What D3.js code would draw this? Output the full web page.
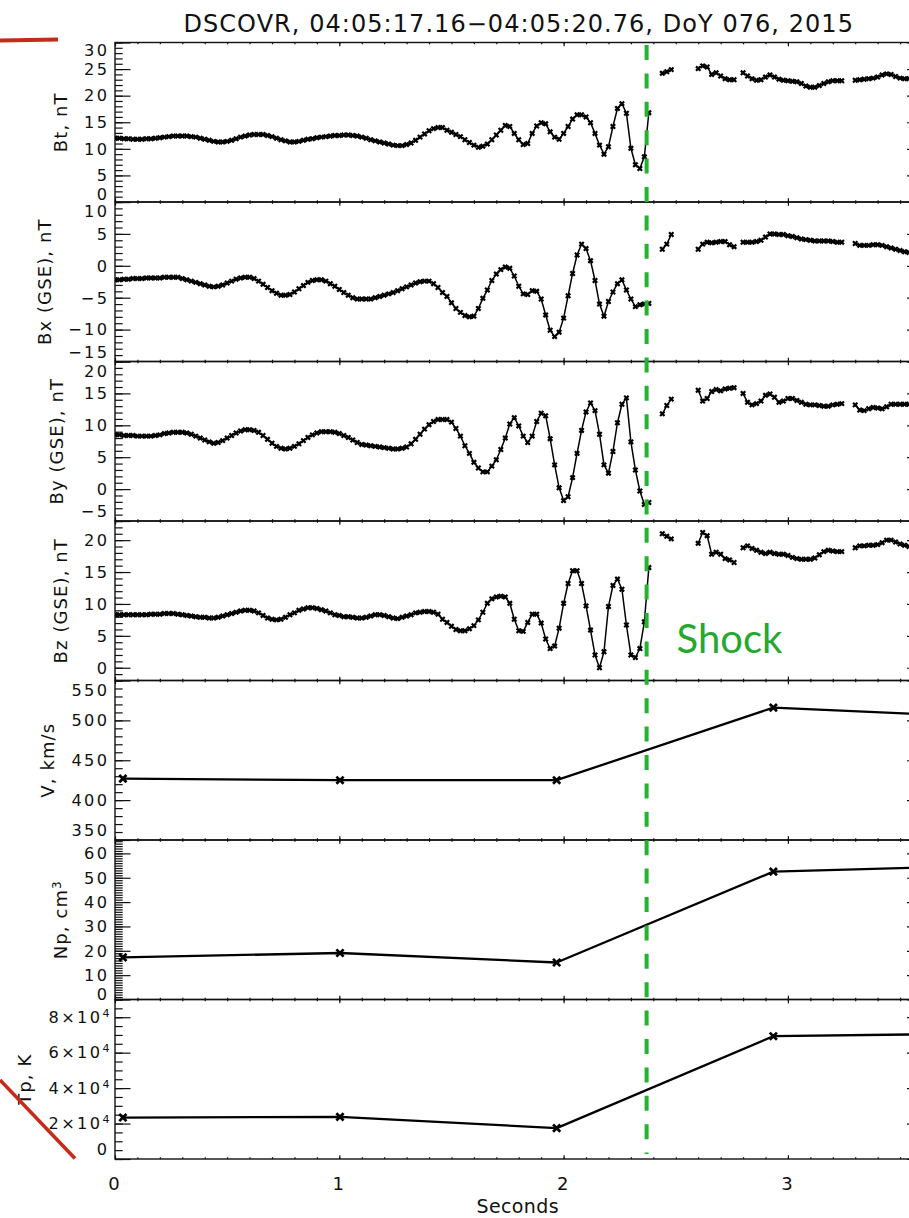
<!DOCTYPE html>
<html><head><meta charset="utf-8">
<script src="https://cdn.jsdelivr.net/npm/d3@7"></script>
<style>body{margin:0;background:#fff}svg{display:block}</style>
</head><body><div id="chart"></div>
<script>
// ---------------- DATA ----------------
const titleText = "DSCOVR, 04:05:17.16\u221204:05:20.76, DoY 076, 2015";
const xLabel = "Seconds";
const xMajorTicks = [0, 1, 2, 3];
const shockTime = [2.37];
const shockLabel = "Shock";

// magnetometer sample times (s)
const magTime = [
0.00,0.02,0.04,0.06,0.08,0.10,0.12,0.14,0.16,0.18,
0.20,0.22,0.24,0.26,0.28,0.30,0.32,0.34,0.36,0.38,
0.40,0.42,0.44,0.46,0.48,0.50,0.52,0.54,0.56,0.58,
0.60,0.62,0.64,0.66,0.68,0.70,0.72,0.74,0.76,0.78,
0.80,0.82,0.84,0.86,0.88,0.90,0.92,0.94,0.96,0.98,
1.00,1.02,1.04,1.06,1.08,1.10,1.12,1.14,1.16,1.18,
1.20,1.22,1.24,1.26,1.28,1.30,1.32,1.34,1.36,1.38,
1.40,1.42,1.44,1.46,1.48,1.50,1.52,1.54,1.56,1.58,
1.60,1.62,1.64,1.66,1.68,1.70,1.72,1.74,1.76,1.78,
1.80,1.82,1.84,1.86,1.88,1.90,1.92,1.94,1.96,1.98,
2.00,2.02,2.04,2.06,2.08,2.10,2.12,2.14,2.16,2.18,
2.20,2.22,2.24,2.26,2.28,2.30,2.32,2.34,2.36,2.38,
2.40,2.42,2.44,2.46,2.48,2.50,2.52,2.54,2.56,2.58,
2.60,2.62,2.64,2.66,2.68,2.70,2.72,2.74,2.76,2.78,
2.80,2.82,2.84,2.86,2.88,2.90,2.92,2.94,2.96,2.98,
3.00,3.02,3.04,3.06,3.08,3.10,3.12,3.14,3.16,3.18,
3.20,3.22,3.24,3.26,3.28,3.30,3.32,3.34,3.36,3.38,
3.40,3.42,3.44,3.46,3.48,3.50,3.52,3.54,3.56];

const bt = [
12.0,12.0,11.9,11.9,11.8,11.8,11.8,11.9,11.9,12.0,
12.1,12.2,12.3,12.4,12.4,12.4,12.4,12.3,12.2,12.0,
11.8,11.6,11.4,11.3,11.3,11.4,11.6,11.9,12.2,12.4,
12.6,12.7,12.7,12.7,12.5,12.3,12.0,11.7,11.5,11.3,
11.3,11.4,11.6,11.8,11.9,12.1,12.2,12.3,12.4,12.5,
12.5,12.6,12.6,12.5,12.4,12.2,12.0,11.7,11.5,11.3,
11.1,10.9,10.7,10.6,10.6,10.8,11.1,11.6,12.2,12.8,
13.4,13.8,14.0,14.0,13.5,13.1,12.7,12.3,11.7,11.2,
10.7,10.3,10.5,10.9,11.7,12.6,13.5,14.4,14.2,12.9,
11.7,10.8,11.0,12.9,14.3,14.9,14.7,13.2,12.2,11.8,
12.9,14.2,15.6,16.4,16.4,16.0,14.9,12.9,10.7,9.0,
10.4,14.2,17.6,18.5,16.7,10.1,7.0,6.3,8.5,16.8,
null,null,24.2,24.5,24.9,null,null,null,null,null,
25.1,25.6,25.4,24.0,24.3,23.7,23.2,23.0,23.0,null,
24.3,23.7,23.2,22.9,23.0,23.5,23.9,23.5,23.1,22.9,
22.8,22.7,22.6,22.3,21.8,21.6,21.6,21.9,22.3,22.6,
22.8,22.8,22.8,null,null,22.9,23.0,23.1,23.2,23.3,
23.5,23.9,24.1,24.0,23.6,23.3,23.2,23.2,23.1];

const bx = [
-2.2,-2.2,-2.1,-2.1,-2.0,-2.0,-2.0,-1.9,-1.9,-1.9,
-1.9,-1.8,-1.8,-1.8,-1.8,-2.0,-2.2,-2.4,-2.6,-2.8,
-3.0,-3.2,-3.3,-3.2,-3.0,-2.7,-2.4,-2.1,-1.9,-1.8,
-1.8,-2.0,-2.4,-2.9,-3.4,-3.9,-4.3,-4.6,-4.6,-4.5,
-4.1,-3.6,-3.1,-2.6,-2.3,-2.2,-2.2,-2.4,-2.8,-3.2,
-3.7,-4.2,-4.6,-5.0,-5.2,-5.2,-5.2,-5.2,-5.0,-4.8,
-4.6,-4.4,-4.2,-3.9,-3.6,-3.3,-3.0,-2.7,-2.5,-2.4,
-2.4,-2.8,-3.4,-4.2,-4.8,-5.8,-6.7,-7.3,-7.8,-8.0,
-7.9,-6.7,-5.1,-3.8,-2.3,-1.3,-0.6,-0.2,-0.4,-1.6,
-3.2,-4.4,-4.5,-3.9,-4.0,-5.2,-7.7,-10.1,-11.1,-10.4,
-8.2,-4.7,-1.2,1.7,3.4,2.7,0.8,-2.3,-6.0,-7.9,
-5.6,-4.1,-2.8,-2.2,-3.8,-5.2,-6.4,-6.1,-6.0,-5.9,
null,null,2.6,3.4,4.9,null,null,null,null,null,
2.6,3.4,3.7,3.6,3.7,3.8,3.8,3.3,3.0,null,
3.7,3.7,3.7,3.8,4.0,4.5,5.0,5.0,4.9,4.9,
4.7,4.6,4.4,4.2,4.1,4.0,3.9,3.9,3.9,3.9,
3.8,3.7,3.7,null,null,3.5,3.2,3.2,3.2,3.3,
3.3,3.2,3.0,2.8,2.6,2.4,2.2,2.1,2.0];

const by = [
8.5,8.5,8.4,8.4,8.4,8.3,8.3,8.3,8.3,8.4,
8.5,8.7,8.8,8.9,8.9,8.9,8.8,8.6,8.3,8.0,
7.7,7.4,7.2,7.3,7.6,8.0,8.4,8.8,9.1,9.3,
9.3,9.2,8.9,8.4,7.8,7.2,6.7,6.4,6.3,6.4,
6.7,7.1,7.6,8.1,8.5,8.8,9.0,9.0,9.0,8.9,
8.7,8.4,8.1,7.7,7.3,7.0,6.9,6.8,6.7,6.6,
6.5,6.4,6.3,6.3,6.4,6.6,7.1,7.8,8.6,9.4,
10.1,10.6,10.9,10.9,10.9,10.5,9.5,8.3,6.8,5.6,
4.2,3.3,2.7,2.7,3.6,4.6,6.2,8.0,10.2,11.2,
9.9,8.3,7.3,8.3,10.6,11.9,11.5,7.9,3.8,0.2,
-1.8,-1.2,1.8,5.6,9.2,12.1,13.5,12.3,8.6,3.8,
2.5,5.9,10.4,13.3,14.3,7.4,3.0,-0.3,-2.4,-2.1,
null,null,11.8,13.1,14.1,null,null,null,null,null,
15.5,13.8,14.2,15.3,15.6,15.4,15.7,15.8,15.9,null,
15.0,13.6,13.2,13.4,13.8,14.7,14.9,14.4,13.6,13.8,
14.2,14.2,13.9,13.6,13.3,13.2,13.2,13.1,13.0,13.0,
13.2,13.3,13.4,null,null,13.2,12.4,12.3,12.6,12.8,
12.7,12.6,12.9,13.3,13.3,13.3,13.3,13.3,13.3];

const bz = [
8.3,8.3,8.3,8.3,8.3,8.3,8.3,8.3,8.4,8.4,
8.4,8.5,8.5,8.5,8.4,8.3,8.2,8.1,8.0,7.9,
7.9,7.8,7.8,7.9,8.1,8.3,8.5,8.7,8.9,9.0,
9.0,8.9,8.6,8.2,7.8,7.6,7.5,7.6,7.9,8.3,
8.6,9.0,9.2,9.4,9.4,9.3,9.1,8.9,8.6,8.3,
8.2,8.0,8.0,7.9,7.8,7.8,7.9,8.1,8.3,8.3,
8.2,8.0,7.8,7.7,7.9,8.1,8.3,8.6,8.7,8.8,
8.8,8.7,8.4,7.6,7.1,6.5,6.0,5.8,5.8,6.1,
6.6,7.5,8.7,10.1,10.8,11.1,11.2,11.1,10.1,7.6,
5.8,5.7,7.1,8.4,8.4,7.0,4.5,3.0,3.4,6.2,
10.1,13.2,15.2,15.2,13.2,9.7,5.9,2.0,0.0,2.5,
9.6,12.9,13.9,12.3,6.7,2.0,1.6,3.0,7.2,15.7,
null,null,21.0,20.6,20.2,null,null,null,null,null,
19.5,21.2,20.7,17.8,18.1,17.8,17.1,16.9,16.5,null,
18.8,19.1,18.7,18.4,18.1,17.9,18.1,17.9,17.8,17.8,
17.6,17.3,17.1,17.0,17.0,17.0,17.2,17.7,18.2,18.4,
18.3,18.2,18.2,null,null,18.8,19.1,19.1,19.2,19.2,
19.3,19.6,20.0,20.0,19.7,19.4,19.2,19.0,19.0];

// plasma (Faraday cup) sample times (s) and values
const plasmaTime = [0.035, 1.003, 1.969, 2.935, 3.90];
const vp = [427, 425, 425, 516, 504];
const np = [17.3, 19.1, 15.2, 52.5, 55.0];
const tp = [23400, 23800, 17400, 69300, 70800];

// y-axis tick values & labels
const btTicks = [0, 5, 10, 15, 20, 25, 30];
const bxTicks = [-15, -10, -5, 0, 5, 10];
const byTicks = [-5, 0, 5, 10, 15, 20];
const bzTicks = [0, 5, 10, 15, 20];
const vTicks = [350, 400, 450, 500, 550];
const npTicks = [0, 10, 20, 30, 40, 50, 60];
const tpTicks = [0, 20000, 40000, 60000, 80000];
const tpTickLabels = [["0", ""], ["2\u00d710", "4"], ["4\u00d710", "4"], ["6\u00d710", "4"], ["8\u00d710", "4"]];

// ---------------- LAYOUT ----------------
const L = 115, R = 922.5, TOP = 42.5, PH = 159.5;
const INK = "#111";
const FONT = "'DejaVu Sans', sans-serif";
const svg = d3.select("#chart").append("svg").attr("width", 909).attr("height", 1218);
const x = d3.scaleLinear().domain([0, 3.6]).range([L, R]);

const panels = [
  {title: ["Bt, nT"], domain: [0, 30], ticks: btTicks, minor: 1, vals: bt, t: magTime, kind: "mag"},
  {title: ["Bx (GSE), nT"], domain: [-15, 10], ticks: bxTicks, minor: 1, vals: bx, t: magTime, kind: "mag"},
  {title: ["By (GSE), nT"], domain: [-5, 20], ticks: byTicks, minor: 1, vals: by, t: magTime, kind: "mag"},
  {title: ["Bz (GSE), nT"], domain: [-2, 23], ticks: bzTicks, minor: 1, vals: bz, t: magTime, kind: "mag"},
  {title: ["V, km/s"], domain: [350, 550], ticks: vTicks, minor: 10, vals: vp, t: plasmaTime, kind: "pl"},
  {title: ["Np, cm", "3"], domain: [0, 65.5], ticks: npTicks, minor: 1, vals: np, t: plasmaTime, kind: "pl"},
  {title: ["Tp, K"], domain: [0, 90000], ticks: tpTicks, minor: 5000, vals: tp, t: plasmaTime, kind: "pl", labels: tpTickLabels}
];

svg.append("defs").append("clipPath").attr("id", "plotclip")
  .append("rect").attr("x", L).attr("y", TOP).attr("width", R - L).attr("height", PH * 7);

function xMarker(sel, s) {
  return sel.attr("d", `M${-s},${-s}L${s},${s}M${-s},${s}L${s},${-s}`);
}

const GAP = 19; // minimum spacing between neighbouring tick labels

panels.forEach((p, i) => {
  const y0 = TOP + i * PH, y1 = y0 + PH;
  const y = d3.scaleLinear().domain(p.domain).range([y1, y0]);
  const g = svg.append("g");

  const xMinor = d3.range(0, 3.6001, 0.1);
  const styleAxis = a => { a.select(".domain").remove(); a.selectAll("line").attr("stroke", INK).attr("stroke-width", 1.2); a.selectAll("text").remove(); };
  g.append("g").attr("transform", `translate(0,${y1})`).call(d3.axisTop(x).tickValues(xMinor).tickSize(1.8)).call(styleAxis);
  g.append("g").attr("transform", `translate(0,${y1})`).call(d3.axisTop(x).tickValues(xMajorTicks).tickSize(3.8)).call(styleAxis);
  g.append("g").attr("transform", `translate(0,${y0})`).call(d3.axisBottom(x).tickValues(xMinor).tickSize(1.8)).call(styleAxis);
  g.append("g").attr("transform", `translate(0,${y0})`).call(d3.axisBottom(x).tickValues(xMajorTicks).tickSize(3.8)).call(styleAxis);

  const lo = Math.ceil(p.domain[0] / p.minor) * p.minor;
  const yMinor = d3.range(lo, p.domain[1] + 1e-9, p.minor);
  g.append("g").attr("transform", `translate(${L},0)`).call(d3.axisRight(y).tickValues(yMinor).tickSize(7.7)).call(styleAxis);
  g.append("g").attr("transform", `translate(${L},0)`).call(d3.axisRight(y).tickValues(p.ticks).tickSize(15.5)).call(styleAxis);
  g.append("g").attr("transform", `translate(${R},0)`).call(d3.axisLeft(y).tickValues(yMinor).tickSize(7.7)).call(styleAxis);
  g.append("g").attr("transform", `translate(${R},0)`).call(d3.axisLeft(y).tickValues(p.ticks).tickSize(15.5)).call(styleAxis);

  g.append("rect").attr("x", L).attr("y", y0).attr("width", R - L).attr("height", PH)
    .attr("fill", "none").attr("stroke", INK).attr("stroke-width", 1.4);

  // y tick labels (edge labels nudged inside the panel as in the source)
  const pos = p.ticks.map(v => Math.max(y0 + 9.6, Math.min(y1 - 9.4, y(v))));
  const n = pos.length;
  if (n > 1 && pos[0] - pos[1] < GAP) pos[0] = Math.min(y(p.ticks[0]), pos[1] + GAP);
  if (n > 1 && pos[n - 2] - pos[n - 1] < GAP) pos[n - 1] = Math.max(y(p.ticks[n - 1]), pos[n - 2] - GAP);

  const lab = g.append("g").attr("font-family", FONT).attr("font-size", 16.2).attr("fill", INK)
    .attr("letter-spacing", "2.4px").attr("text-anchor", "end");
  p.ticks.forEach((v, k) => {
    const t = lab.append("text").attr("x", L - 5.5).attr("y", pos[k]).attr("dy", "0.36em");
    if (p.labels) {
      t.append("tspan").text(p.labels[k][0]);
      if (p.labels[k][1]) t.append("tspan").attr("dy", "-0.55em").attr("font-size", 11).attr("letter-spacing", "0px").text(p.labels[k][1]);
    } else {
      t.text(d3.format("")(v).replace("-", "\u2212"));
    }
  });
  const lbb = lab.node().getBBox();

  const cx = lbb.x - 24;
  const ttl = g.append("text").attr("font-family", FONT).attr("font-size", 18).attr("fill", INK)
    .attr("letter-spacing", "1.1px").attr("text-anchor", "middle")
    .attr("transform", `translate(${cx},${(y0 + y1) / 2}) rotate(-90)`).attr("dy", "0.36em");
  ttl.append("tspan").text(p.title[0]);
  if (p.title[1]) ttl.append("tspan").attr("dy", "-0.5em").attr("font-size", 12).text(p.title[1]);

  // data
  const pts = p.t.map((tt, k) => ({t: tt, v: p.vals[k]}));
  const line = d3.line().defined(d => d.v !== null).x(d => x(d.t)).y(d => y(d.v));
  const dg = g.append("g").attr("clip-path", "url(#plotclip)");
  dg.append("path").datum(pts).attr("d", line).attr("fill", "none").attr("stroke", "#000")
    .attr("stroke-width", p.kind === "mag" ? 1.5 : 2.3).attr("stroke-linejoin", "round");
  const s = p.kind === "mag" ? 2.2 : 3.6;
  dg.selectAll("path.mk").data(pts.filter(d => d.v !== null)).join("path").attr("class", "mk")
    .attr("transform", d => `translate(${x(d.t)},${y(d.v)})`).call(xMarker, s)
    .attr("stroke", "#000").attr("stroke-width", p.kind === "mag" ? 2.2 : 2.7).attr("fill", "none");
});

// x tick labels and title
const xl = svg.append("g").attr("font-family", FONT).attr("font-size", 18).attr("fill", INK).attr("text-anchor", "middle");
xMajorTicks.forEach(v => xl.append("text").attr("x", x(v) - 1).attr("y", 1190).text(v));
svg.append("text").attr("x", (L + R) / 2 - 1).attr("y", 1213).attr("font-family", FONT).attr("font-size", 19)
  .attr("letter-spacing", "0.4px").attr("fill", INK).attr("text-anchor", "middle").text(xLabel);

// main title
svg.append("text").attr("x", (L + R) / 2).attr("y", 32).attr("font-family", FONT).attr("font-size", 24)
  .attr("letter-spacing", "1.05px").attr("fill", INK).attr("text-anchor", "middle").text(titleText);

// shock annotation
svg.append("line").attr("x1", x(shockTime[0])).attr("x2", x(shockTime[0])).attr("y1", 45).attr("y2", 1154)
  .attr("stroke", "#1fb52c").attr("stroke-width", 4).attr("stroke-dasharray", "15,13.4");
svg.append("text").attr("x", x(shockTime[0]) + 30).attr("y", 653).attr("font-family", "Lato, 'Open Sans', sans-serif")
  .attr("font-size", 40).attr("fill", "#24a82e").text(shockLabel);

// red annotation strokes (overlaid marks in the source figure)
svg.append("line").attr("x1", 0).attr("y1", 40.5).attr("x2", 58).attr("y2", 39.5).attr("stroke", "#c62a1b").attr("stroke-width", 3.8);
svg.append("line").attr("x1", 0).attr("y1", 1080).attr("x2", 75).attr("y2", 1158.5).attr("stroke", "#c62a1b").attr("stroke-width", 3.6);
</script>
</body></html>
